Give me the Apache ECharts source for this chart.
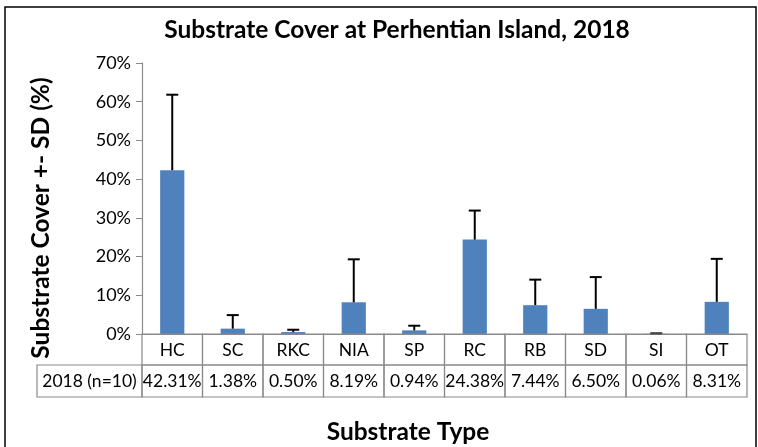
<!DOCTYPE html>
<html lang="en">
<head>
    <meta charset="UTF-8">
    <title>Substrate Cover</title>
    <script src="https://cdn.jsdelivr.net/npm/echarts@6/dist/echarts.min.js"></script>
    <style>
        html, body { margin: 0; padding: 0; background: #fff; }
        #main { width: 758px; height: 447px; }
    </style>
</head>
<body>
    <div id="main"></div>
    <script>
        // data
        const categories = ['HC', 'SC', 'RKC', 'NIA', 'SP', 'RC', 'RB', 'SD', 'SI', 'OT'];
        const cover = [42.31, 1.38, 0.50, 8.19, 0.94, 24.38, 7.44, 6.50, 0.06, 8.31];
        const coverSd = [19.5, 3.5, 0.6, 11.1, 1.2, 7.5, 6.6, 8.2, 0.1, 11.1];
        const tableLabels = ['42.31%', '1.38%', '0.50%', '8.19%', '0.94%', '24.38%', '7.44%', '6.50%', '0.06%', '8.31%'];
        const rowName = '2018 (n=10)';
        const yMin = 0, yMax = 70, yStep = 10;

        const FONT = 'Lato, "Open Sans", sans-serif';
        const gridLeft = 142, gridRight = 11, gridTop = 63, gridBottom = 113;
        const rowH = 31;
        const tableLine = '#8a8a8a';

        let myChart = echarts.init(document.getElementById('main'));

        // 误差线
        function renderError(params, api) {
            let base = api.coord([api.value(0), api.value(1)]);
            let top = api.coord([api.value(0), api.value(2)]);
            let cap = 6;
            return {
                type: 'group',
                children: [
                    { type: 'line', shape: { x1: base[0], y1: base[1], x2: top[0], y2: top[1] }, style: { stroke: '#000', lineWidth: 2 } },
                    { type: 'line', shape: { x1: top[0] - cap, y1: top[1], x2: top[0] + cap, y2: top[1] }, style: { stroke: '#000', lineWidth: 2 } }
                ]
            };
        }

        // 数据表格 (类别 + 数值)
        function renderTable(params, api) {
            let i = api.value(0);
            let p = api.coord([i, 0]);
            let w = api.size([1, 0])[0];
            let x0 = p[0] - w / 2, y0 = p[1];
            let txt = (s, y) => ({
                type: 'text',
                style: {
                    text: s, x: p[0], y: y, font: '17.5px ' + FONT, fill: '#000',
                    textAlign: 'center', align: 'center', textVerticalAlign: 'middle', verticalAlign: 'middle'
                }
            });
            return {
                type: 'group',
                children: [
                    { type: 'rect', shape: { x: x0, y: y0, width: w, height: rowH }, style: { fill: 'none', stroke: tableLine, lineWidth: 1.2 } },
                    { type: 'rect', shape: { x: x0, y: y0 + rowH, width: w, height: rowH + 1 }, style: { fill: 'none', stroke: tableLine, lineWidth: 1.2 } },
                    txt(categories[i], y0 + rowH / 2 + 1),
                    txt(tableLabels[i], y0 + rowH * 1.5 + 1)
                ]
            };
        }

        let option = {
            animation: false,
            textStyle: { fontFamily: FONT },
            grid: { left: gridLeft, right: gridRight, top: gridTop, bottom: gridBottom },
            xAxis: {
                type: 'category',
                data: categories,
                axisLine: { lineStyle: { color: tableLine } },
                axisTick: { show: false },
                axisLabel: { show: false }
            },
            yAxis: {
                type: 'value',
                min: yMin,
                max: yMax,
                interval: yStep,
                axisLine: { show: true, lineStyle: { color: tableLine, width: 1.2 } },
                axisTick: { show: true, length: 6, lineStyle: { color: tableLine } },
                axisLabel: { formatter: '{value}%', color: '#000', fontSize: 18, margin: 11 },
                splitLine: { show: false }
            },
            graphic: [
                { type: 'rect', shape: { x: 5, y: 7, width: 751, height: 460 }, style: { fill: 'none', stroke: '#000', lineWidth: 1.5 } },
                { type: 'text', x: 397, y: 30, style: { text: 'Substrate Cover at Perhentian Island, 2018', font: 'bold 24.5px ' + FONT, fill: '#000', align: 'center', verticalAlign: 'middle' } },
                { type: 'text', x: 41, y: 218, rotation: Math.PI / 2, style: { text: 'Substrate Cover +- SD (%)', font: 'bold 24.5px ' + FONT, fill: '#000', align: 'center', verticalAlign: 'middle' } },
                { type: 'text', x: 408, y: 432, style: { text: 'Substrate Type', font: 'bold 24.5px ' + FONT, fill: '#000', align: 'center', verticalAlign: 'middle' } },
                { type: 'rect', shape: { x: 37, y: 447 - gridBottom + rowH, width: gridLeft - 37, height: rowH + 1 }, style: { fill: 'none', stroke: tableLine, lineWidth: 1.2 } },
                { type: 'text', x: (37 + gridLeft) / 2, y: 447 - gridBottom + rowH * 1.5 + 1, style: { text: rowName, font: '17.5px ' + FONT, fill: '#000', align: 'center', verticalAlign: 'middle' } }
            ],
            series: [
                {
                    type: 'bar',
                    data: cover,
                    barWidth: '40%',
                    itemStyle: { color: '#4F81BD' },
                    z: 2
                },
                {
                    type: 'custom',
                    renderItem: renderError,
                    data: categories.map((c, i) => [i, cover[i], cover[i] + coverSd[i]]),
                    encode: { x: 0, y: [1, 2] },
                    z: 3
                },
                {
                    type: 'custom',
                    renderItem: renderTable,
                    data: categories.map((c, i) => [i, 0]),
                    encode: { x: 0, y: 1 },
                    clip: false,
                    silent: true,
                    z: 4
                }
            ]
        };

        myChart.setOption(option);
    </script>
</body>
</html>
